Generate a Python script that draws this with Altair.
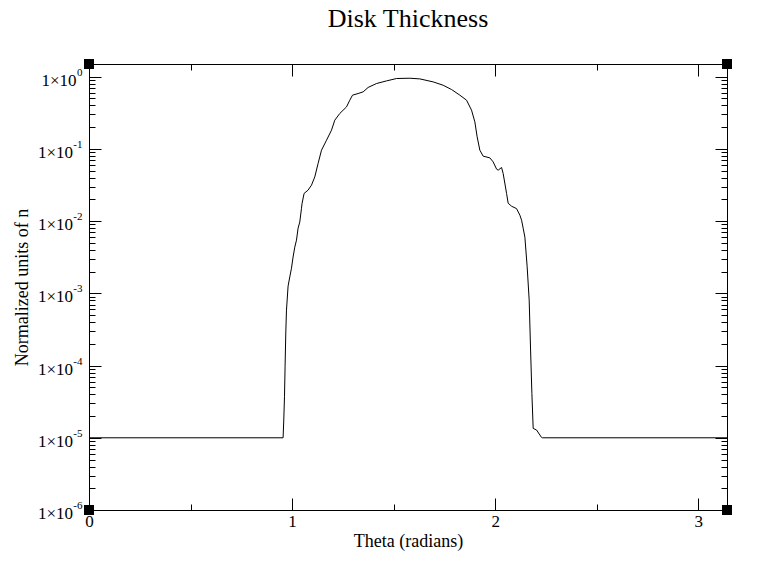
import altair as alt
import pandas as pd

# Curve (theta in radians, normalized n)
theta = [0.0, 0.9557, 0.9591, 0.9626, 0.9655, 0.9690, 0.9724, 0.9803, 0.9887, 0.9970,
         1.0049, 1.0133, 1.0217, 1.0296, 1.0379, 1.0463, 1.0493, 1.0591, 1.0788, 1.0956,
         1.1118, 1.1281, 1.1448, 1.1695, 1.1941, 1.2103, 1.2350, 1.2680, 1.2842, 1.2975,
         1.3251, 1.3498, 1.3744, 1.4158, 1.4650, 1.5143, 1.5798, 1.6291, 1.6946, 1.7438,
         1.7852, 1.8261, 1.8591, 1.8837, 1.9000, 1.9113, 1.9246, 1.9409, 1.9739, 1.9901,
         2.0069, 2.0148, 2.0315, 2.0394, 2.0562, 2.0640, 2.0808, 2.1054, 2.1217, 2.1300,
         2.1379, 2.1463, 2.1576, 2.1675, 2.1744, 2.1808, 2.1872, 2.2039, 2.2286, 2.2325,
         3.1416]
n = [1.0e-5, 1.0e-5, 1.76e-5, 3.70e-5, 9.6e-5, 2.82e-4, 5.86e-4, 1.26e-3, 1.69e-3, 2.23e-3,
     3.18e-3, 4.37e-3, 5.46e-3, 8.0e-3, 9.7e-3, 1.51e-2, 1.77e-2, 2.42e-2, 2.69e-2, 3.15e-2,
     4.10e-2, 6.3e-2, 9.6e-2, 0.132, 0.182, 0.250, 0.310, 0.382, 0.473, 0.555,
     0.585, 0.617, 0.710, 0.805, 0.875, 0.944, 0.953, 0.933, 0.848, 0.762,
     0.665, 0.555, 0.473, 0.344, 0.237, 0.147, 0.096, 0.0794, 0.0752, 0.0662,
     0.0525, 0.0508, 0.0553, 0.0457, 0.0242, 0.0177, 0.0161, 0.0149, 0.0121, 0.0103,
     8.0e-3, 6.0e-3, 2.33e-3, 8.07e-4, 1.64e-4, 4.12e-5, 1.35e-5, 1.28e-5, 1.01e-5, 1.0e-5,
     1.0e-5]

x_domain = [0.0, 3.14159]
y_domain = [1e-6, 1.5]
x_major = [0, 1, 2, 3]
x_minor = [0.5, 1.5, 2.5]
y_major = [1e-6, 1e-5, 1e-4, 1e-3, 1e-2, 1e-1, 1.0]
y_minor = [k * d for d in y_major[:-1] for k in range(2, 10)]

W, H = 638, 446
FONT = "Liberation Serif"

df = pd.DataFrame({"theta": theta, "n": n})
corners = pd.DataFrame({
    "theta": [x_domain[0], x_domain[1], x_domain[0], x_domain[1]],
    "n": [y_domain[0], y_domain[0], y_domain[1], y_domain[1]],
})

xs = alt.Scale(domain=x_domain, nice=False, zero=False)
ys = alt.Scale(type="log", domain=y_domain, nice=False)


def tick_axis(values, orient, offset, size, domain=False):
    return alt.Axis(values=values, orient=orient, offset=offset, tickSize=size, ticks=True,
                    labels=False, domain=domain, domainColor="black", domainWidth=1,
                    grid=False, title=None, tickColor="black", tickWidth=1)


label_common = dict(labelFont=FONT, labelColor="black", labelFlush=False, grid=False,
                    domain=False, ticks=False, tickSize=0)

line = alt.Chart(df).mark_line(color="black", strokeWidth=1).encode(
    x=alt.X("theta:Q", scale=xs, axis=alt.Axis(
        values=x_major, orient="bottom", labelFontSize=17, labelPadding=3,
        title="Theta (radians)", titleFont=FONT, titleFontSize=18, titleFontWeight="normal",
        titleColor="black", titlePadding=3, **label_common)),
    y=alt.Y("n:Q", scale=ys, axis=alt.Axis(
        values=y_major, orient="left", labelExpr="'1×10'", labelFontSize=17,
        labelPadding={"condition": {"test": "datum.value > 0.5", "value": 13}, "value": 16.5},
        labelOffset=3.5,
        title="Normalized units of n", titleFont=FONT, titleFontSize=18,
        titleFontWeight="normal", titleColor="black", titlePadding=6, **label_common)),
)

ghost = alt.Chart(df).mark_line(strokeOpacity=0)

l2 = ghost.encode(
    x=alt.X("theta:Q", scale=xs, axis=tick_axis(x_major, "top", -H, 12, domain=True)),
    y=alt.Y("n:Q", scale=ys, axis=alt.Axis(
        values=y_major, orient="left", labelExpr="'' + round(log(datum.value) / LN10)",
        labelFontSize=11, labelPadding=7, labelOffset=-4.5, title=None, **label_common)),
)
l3 = ghost.encode(
    x=alt.X("theta:Q", scale=xs, axis=tick_axis(x_minor, "top", -H, 6)),
    y=alt.Y("n:Q", scale=ys, axis=tick_axis(y_major, "right", -W, 12, domain=True)),
)
l4 = ghost.encode(
    x=alt.X("theta:Q", scale=xs, axis=tick_axis(x_major, "bottom", -H, 12, domain=True)),
    y=alt.Y("n:Q", scale=ys, axis=tick_axis(y_minor, "right", -W, 6)),
)
l5 = ghost.encode(
    x=alt.X("theta:Q", scale=xs, axis=tick_axis(x_minor, "bottom", -H, 6)),
    y=alt.Y("n:Q", scale=ys, axis=tick_axis(y_major, "left", -W, 12, domain=True)),
)
l6 = alt.Chart(corners).mark_square(size=100, color="black", opacity=1, filled=True).encode(
    x=alt.X("theta:Q", scale=xs, axis=None),
    y=alt.Y("n:Q", scale=ys, axis=tick_axis(y_minor, "left", -W, 6)),
)

chart = alt.layer(line, l2, l3, l4, l5, l6).resolve_axis(
    x="independent", y="independent"
).properties(
    width=W, height=H,
    title=alt.TitleParams("Disk Thickness", font=FONT, fontSize=26, fontWeight="normal",
                          color="black", anchor="middle", frame="group", offset=27),
    autosize=alt.AutoSizeParams(type="none"),
    padding={"left": 81, "top": 56, "right": 27, "bottom": 51},
).configure_view(strokeWidth=0).configure(background="white")

chart.save("out.html", embed_options={"renderer": "svg", "actions": False})
